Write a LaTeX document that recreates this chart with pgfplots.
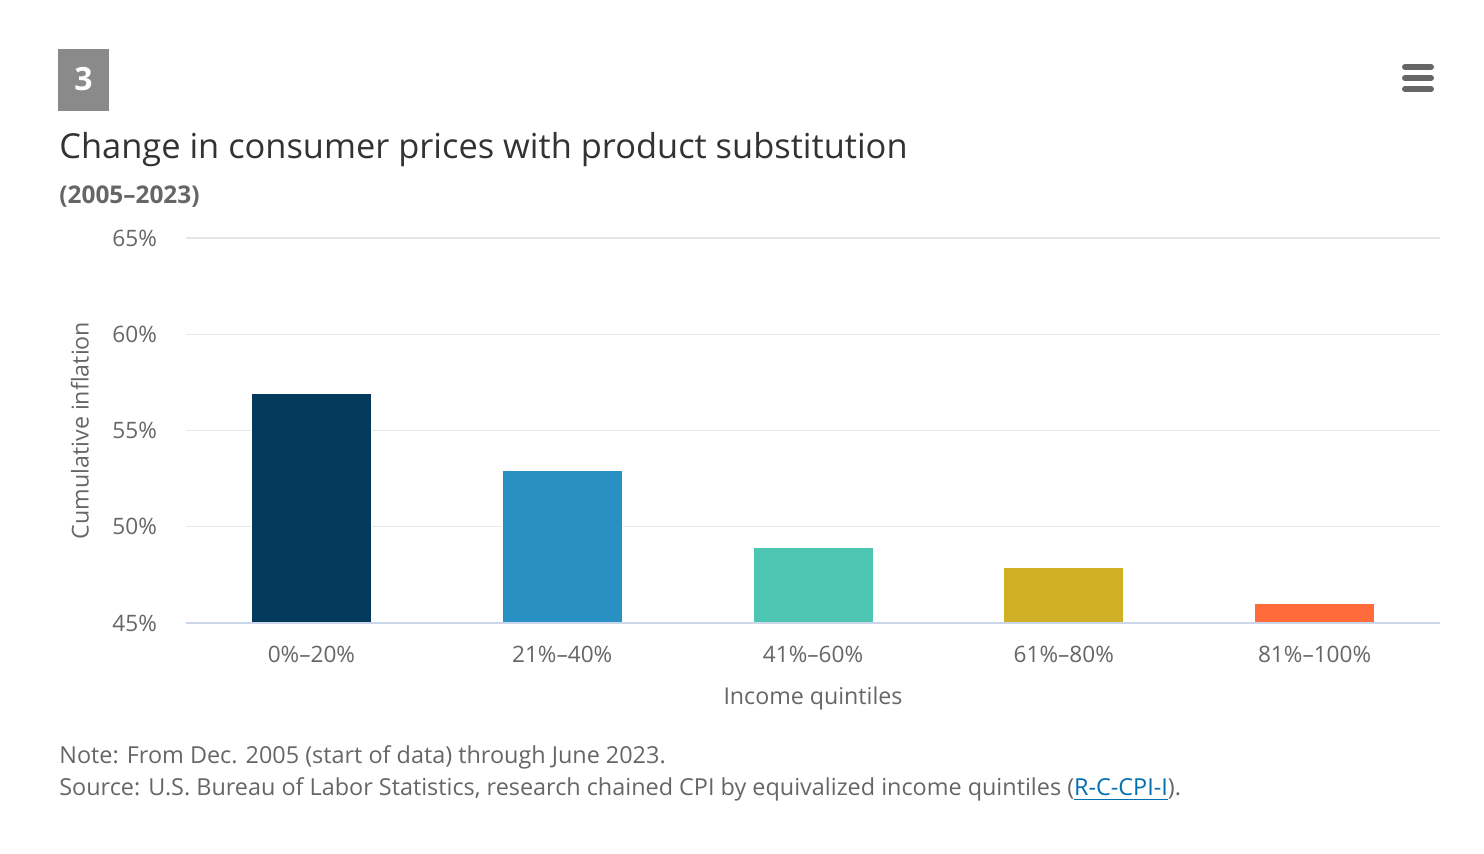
\documentclass[border=0pt]{standalone}
\usepackage{pgfplots}
\pgfplotsset{compat=1.18}
\usepackage{fontspec}
\setmainfont{Open Sans}
\definecolor{c1}{HTML}{033A5B}
\definecolor{c2}{HTML}{2990C4}
\definecolor{c3}{HTML}{4CC6B3}
\definecolor{c4}{HTML}{CFB026}
\definecolor{c5}{HTML}{FF6B3B}
\definecolor{txt}{HTML}{333333}
\definecolor{lbl}{HTML}{666666}
\definecolor{gridc}{HTML}{E6E6E6}
\definecolor{axl}{HTML}{CCD6EB}
\definecolor{badge}{HTML}{8A8A8A}
\definecolor{link}{HTML}{0070B0}
\begin{document}
\begin{tikzpicture}[x=0.5pt,y=0.5pt]
\path[use as bounding box] (0,0) rectangle (1484,854);
% badge (y flipped: 854 - y)
\fill[badge] (58,805) rectangle (109,743);
\node[white,font=\fontsize{16}{18}\selectfont\bfseries] at (83.5,775) {3};
% hamburger
\foreach \yy in {787,776,765}
  \draw[lbl,line width=3pt,line cap=round] (1405,\yy) -- (1431,\yy);
% title
\node[anchor=base west,inner sep=0,text=txt,font=\fontsize{17.2}{20}\selectfont] at (59,695) {Change in consumer prices with product substitution};
\node[anchor=base west,inner sep=0,text=lbl,font=\fontsize{12.2}{14}\selectfont\bfseries] at (59,650) {(2005–2023)};
% notes
\node[anchor=base west,inner sep=0,text=lbl,font=\fontsize{11.7}{14}\selectfont] at (59,90) {Note: From Dec. 2005 (start of data) through June 2023.};
\node[anchor=base west,inner sep=0,text=lbl,font=\fontsize{11.7}{14}\selectfont] at (59,58) {Source: U.S. Bureau of Labor Statistics, research chained CPI by equivalized income quintiles (\textcolor{link}{\underline{R-C-CPI-I}}).};
\begin{axis}[
  at={(93pt,115.5pt)}, anchor=south west,
  scale only axis, width=627pt, height=192.5pt,
  xmin=-0.5, xmax=4.5, ymin=45, ymax=65,
  ytick={45,50,55,60,65},
  yticklabel={\pgfmathprintnumber{\tick}\%},
  /pgf/number format/assume math mode=true,
  xtick={0,1,2,3,4},
  xticklabels={0\%–20\%,21\%–40\%,41\%–60\%,61\%–80\%,81\%–100\%},
  axis line style={draw=none},
  tick style={draw=none},
  ymajorgrids, grid style={draw=gridc, line width=0.6pt},
  ticklabel style={text=lbl, font=\fontsize{11.3}{13}\selectfont},
  yticklabel style={xshift=-11pt},
  xticklabel style={yshift=-4pt},
  xlabel={Income quintiles},
  ylabel={Cumulative inflation},
  label style={text=lbl, font=\fontsize{11.6}{13}\selectfont},
  xlabel style={yshift=-5pt},
  ylabel style={yshift=5pt},
  ybar, bar width=60pt, bar shift=0pt,
  clip=false,
]
\addplot[fill=c1, draw=white, line width=0.5pt] coordinates {(0,56.9)};
\addplot[fill=c2, draw=white, line width=0.5pt] coordinates {(1,52.9)};
\addplot[fill=c3, draw=white, line width=0.5pt] coordinates {(2,48.9)};
\addplot[fill=c4, draw=white, line width=0.5pt] coordinates {(3,47.9)};
\addplot[fill=c5, draw=white, line width=0.5pt] coordinates {(4,46.0)};
\draw[axl, line width=1pt] (axis cs:-0.5,45) -- (axis cs:4.5,45);
\end{axis}
\end{tikzpicture}
\end{document}
